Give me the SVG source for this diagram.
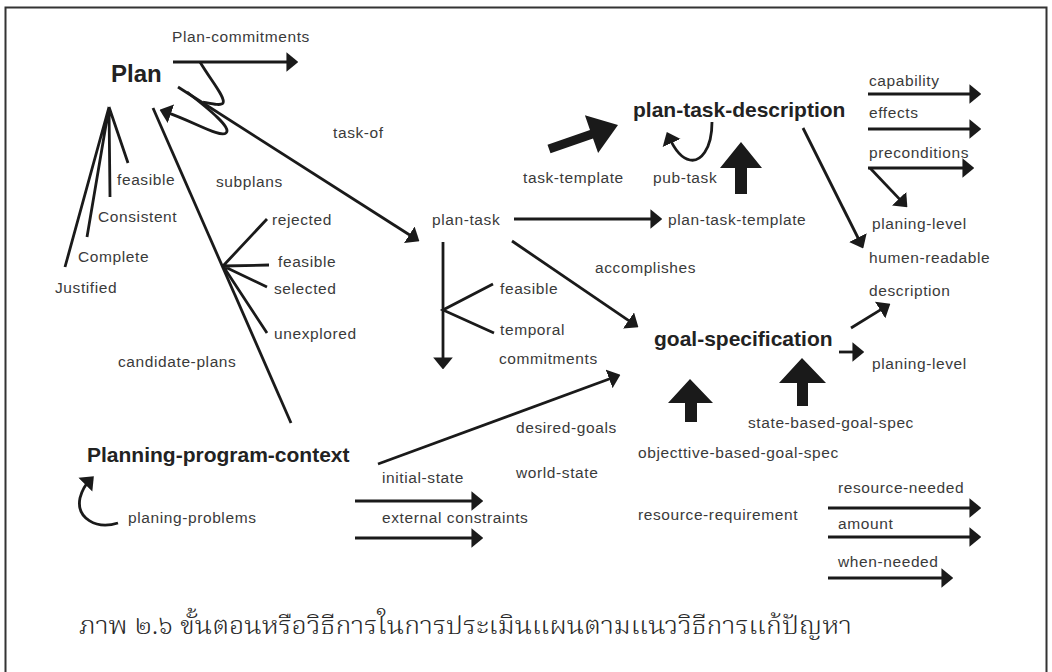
<svg xmlns="http://www.w3.org/2000/svg" width="1052" height="672" viewBox="0 0 1052 672">
  <defs>
    <marker id="ah" markerUnits="userSpaceOnUse" markerWidth="12" markerHeight="20" viewBox="0 0 11 18" refX="6" refY="9" orient="auto">
      <path d="M0,0 L11,9 L0,18 z" fill="#1a1a1a"/>
    </marker>
    <style>
      .t { font-family: "Liberation Sans", Arial, Helvetica, sans-serif; font-size: 15.5px; letter-spacing: 0.6px; fill: #3a3a3a; }
      .b { font-family: "Liberation Sans", Arial, Helvetica, sans-serif; font-weight: bold; font-size: 21px; fill: #222222; }
      .ln { fill: none; stroke: #1a1a1a; stroke-width: 2.8; }
      .ar { fill: none; stroke: #1a1a1a; stroke-width: 2.8; marker-end: url(#ah); }
      .blk { fill: #1a1a1a; stroke: none; }
      .cap { font-family: "Noto Serif Thai", "Noto Sans Thai Looped", "Noto Sans Thai", "Loma", "Garuda", "DejaVu Sans", sans-serif; font-size: 25px; font-weight: 300; fill: #2a2a2a; }
    </style>
  </defs>

  <rect width="1052" height="672" fill="#ffffff"/>
  <!-- outer frame -->
  <rect x="5.5" y="7.5" width="1041" height="690" fill="none" stroke="#333" stroke-width="2"/>

  <!-- connectors -->
  <g id="connectors">
    <!-- Plan -->
    <path class="ar" d="M173 62 H293"/>
    <path class="ar" d="M178 87 L414.8 238.3"/>
    <path class="ln" d="M200 62 C212 82, 226 98, 223 103 C221 106, 213 104, 203 102"/>
    <path class="ar" d="M187 92 C210 110, 232 128, 226 133 C220 138, 195 122, 164.7 111.6"/>
    <path class="ln" d="M109 107 L65 267 M109 107 L87 237 M109 107 L110 197 M109 107 L128 163"/>
    <path class="ln" d="M153 108 L291 423"/>
    <path class="ln" d="M223 266 L267 219 M223 266 L269 265 M223 266 L267 287 M223 266 L267 333"/>

    <!-- plan-task -->
    <path class="ar" d="M514 219 H657"/>
    <path class="ar" d="M512 241 L633.9 324.2"/>
    <path class="ar" d="M443 242 V364"/>
    <path class="ln" d="M493 284 L443 310 L494 333"/>

    <!-- task-template block arrow -->
    <polygon class="blk" points="550.5,153.3 547.5,144.7 590,130 584.9,115.3 618,125 598.1,153.1 593,138.5"/>
    <!-- pub-task loop -->
    <path class="ar" d="M712 122 C712 150, 700 162, 690 160 C680 158, 673 146, 669 137"/>
    <!-- plan-task-template up block arrow -->
    <polygon class="blk" points="735,194 735,168 720,168 741,142 762,168 747,168 747,194"/>

    <!-- plan-task-description attributes -->
    <path class="ar" d="M868 94 H976"/>
    <path class="ar" d="M868 129 H976"/>
    <path class="ar" d="M868 168 H969"/>
    <path class="ar" d="M870 168 L903.6 203.4"/>
    <path class="ar" d="M803 128 L860.8 243.5"/>

    <!-- goal-specification -->
    <path class="ar" d="M851 328 L885.7 306.6"/>
    <path class="ar" d="M839 352 H859"/>
    <polygon class="blk" points="685,422 685,403 668,403 690,379 713,403 697,403 697,422"/>
    <polygon class="blk" points="797,406 797,383 779,383 802,358 826,383 808,383 808,406"/>

    <!-- Planning-program-context -->
    <path class="ar" d="M378 464 L615.3 376.7"/>
    <path class="ar" d="M355 501 H478"/>
    <path class="ar" d="M355 538 H478"/>
    <path class="ar" d="M118 523 C96 530, 76 518, 80 498 C82 490, 86 484, 90 480"/>

    <!-- resource-requirement -->
    <path class="ar" d="M828 508 H976"/>
    <path class="ar" d="M828 537 H976"/>
    <path class="ar" d="M828 578 H948"/>
  </g>

  <g id="plan">
    <text class="b" x="111" y="82" style="font-size:24px">Plan</text>
    <text class="t" x="172" y="42">Plan-commitments</text>
    <text class="t" x="333" y="138">task-of</text>
    <text class="t" x="117" y="185">feasible</text>
    <text class="t" x="98" y="222">Consistent</text>
    <text class="t" x="78" y="262">Complete</text>
    <text class="t" x="55" y="293">Justified</text>
    <text class="t" x="216" y="187">subplans</text>
    <text class="t" x="272" y="225">rejected</text>
    <text class="t" x="278" y="267">feasible</text>
    <text class="t" x="274" y="294">selected</text>
    <text class="t" x="274" y="339">unexplored</text>
    <text class="t" x="118" y="367">candidate-plans</text>
  </g>

  <g id="plan-task">
    <text class="t" x="432" y="225">plan-task</text>
    <text class="t" x="500" y="294">feasible</text>
    <text class="t" x="500" y="335">temporal</text>
    <text class="t" x="499" y="364">commitments</text>
    <text class="t" x="595" y="273">accomplishes</text>
    <text class="t" x="668" y="225">plan-task-template</text>
  </g>

  <g id="plan-task-description">
    <text class="b" x="633" y="117">plan-task-description</text>
    <text class="t" x="523" y="183">task-template</text>
    <text class="t" x="653" y="183">pub-task</text>
    <text class="t" x="869" y="86">capability</text>
    <text class="t" x="869" y="118">effects</text>
    <text class="t" x="869" y="158">preconditions</text>
    <text class="t" x="872" y="229">planing-level</text>
    <text class="t" x="869" y="263">humen-readable</text>
  </g>

  <g id="goal-specification">
    <text class="b" x="654" y="346">goal-specification</text>
    <text class="t" x="869" y="296">description</text>
    <text class="t" x="872" y="369">planing-level</text>
    <text class="t" x="748" y="428">state-based-goal-spec</text>
    <text class="t" x="638" y="458">objecttive-based-goal-spec</text>
  </g>

  <g id="planning-program-context">
    <text class="b" x="87" y="462">Planning-program-context</text>
    <text class="t" x="128" y="523">planing-problems</text>
    <text class="t" x="382" y="483">initial-state</text>
    <text class="t" x="382" y="523">external constraints</text>
    <text class="t" x="516" y="433">desired-goals</text>
    <text class="t" x="516" y="478">world-state</text>
  </g>

  <g id="resource-requirement">
    <text class="t" x="638" y="520">resource-requirement</text>
    <text class="t" x="838" y="493">resource-needed</text>
    <text class="t" x="838" y="529">amount</text>
    <text class="t" x="838" y="567">when-needed</text>
  </g>

  <text class="cap" x="79" y="634" textLength="773" lengthAdjust="spacingAndGlyphs">ภาพ ๒.๖ ขั้นตอนหรือวิธีการในการประเมินแผนตามแนววิธีการแก้ปัญหา</text>
</svg>
